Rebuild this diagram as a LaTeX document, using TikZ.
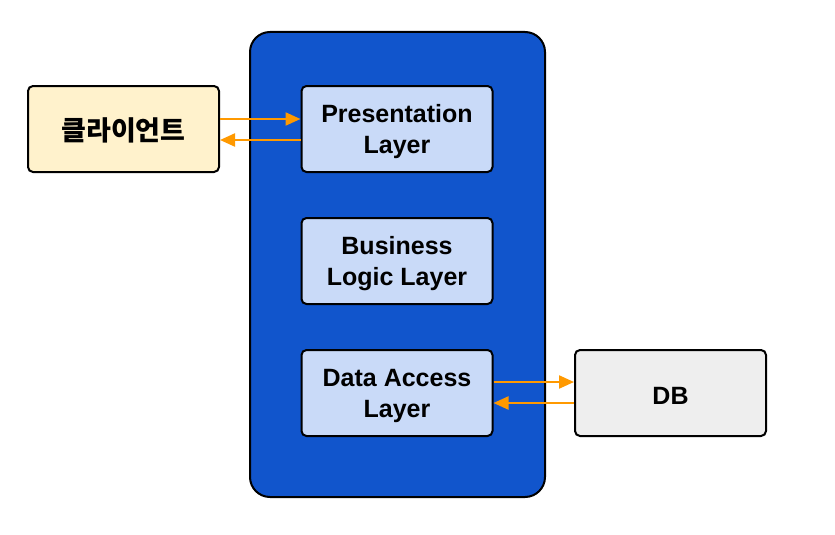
\documentclass[tikz,border=0pt]{standalone}
\usepackage{fontspec}
\setmainfont{Liberation Sans}
\newfontfamily\kofont{Noto Sans CJK KR}
\usetikzlibrary{arrows.meta}
\definecolor{outerblue}{HTML}{1155CC}
\definecolor{layerblue}{HTML}{C9DAF8}
\definecolor{clientyellow}{HTML}{FFF2CC}
\definecolor{dbgray}{HTML}{EEEEEE}
\definecolor{arroworange}{HTML}{FF9900}
\tikzset{
  box/.style={draw=black, line width=2pt, rounded corners=5pt, minimum width=191pt, minimum height=86pt, inner sep=0pt},
  boxtext/.style={align=center, font=\fontsize{25}{31}\selectfont\bfseries, inner sep=0pt, yshift=-2.5pt},
  link/.style={draw=arroworange, line width=2.2pt, -{Triangle[length=15pt,width=13pt]}}
}
\begin{document}
\begin{tikzpicture}[x=1pt,y=-1pt]
\useasboundingbox (0,0) rectangle (835,535);
\node[draw=black, line width=2pt, fill=outerblue, rounded corners=20pt, minimum width=295pt, minimum height=465pt, inner sep=0pt] (outer) at (397.5,264.5) {};
\node[box, fill=clientyellow, label={[boxtext, yshift=1pt]center:{\kofont\fontsize{27}{31}\selectfont\bfseries 클라이언트}}] (client) at (123.5,129) {};
\node[box, fill=layerblue, label={[boxtext]center:{Presentation\\Layer}}] (pres) at (397,129) {};
\node[box, fill=layerblue, label={[boxtext]center:{Business\\Logic Layer}}] (biz) at (397,261) {};
\node[box, fill=layerblue, label={[boxtext]center:{Data Access\\Layer}}] (dal) at (397,393) {};
\node[box, fill=dbgray, label={[boxtext]center:{DB}}] (db) at (670.5,393) {};
\draw[link] ([yshift=10pt]client.east) -- ([yshift=10pt]pres.west);
\draw[link] ([yshift=-11pt]pres.west) -- ([yshift=-11pt]client.east);
\draw[link] ([yshift=11pt]dal.east) -- ([yshift=11pt]db.west);
\draw[link] ([yshift=-10pt]db.west) -- ([yshift=-10pt]dal.east);
\end{tikzpicture}
\end{document}
